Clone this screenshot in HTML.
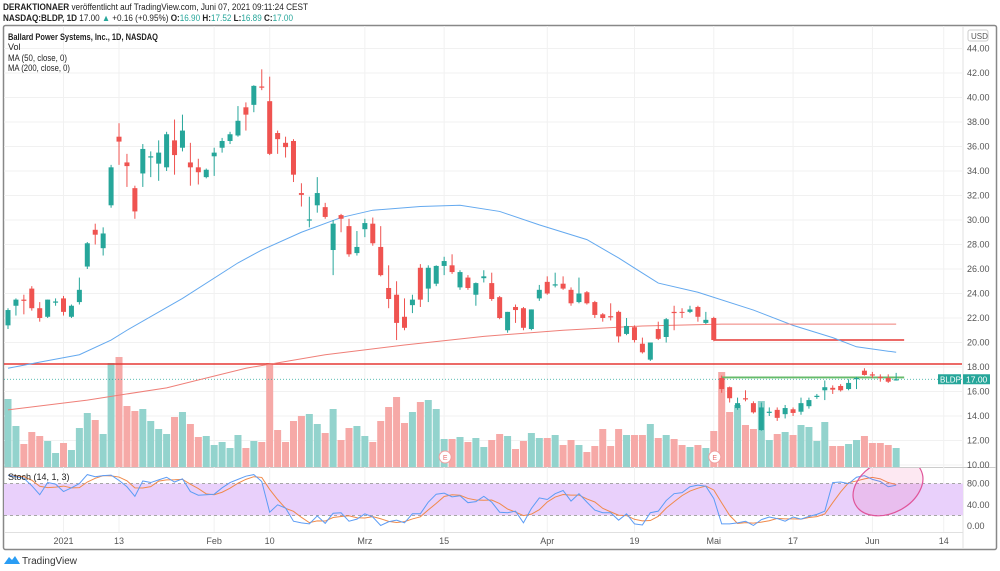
<!DOCTYPE html>
<html><head><meta charset="utf-8"><style>
html,body{margin:0;padding:0;background:#fff;width:1000px;height:571px;overflow:hidden}
svg{display:block;font-family:"Liberation Sans",sans-serif}
</style></head><body>
<svg id="chart" width="1000" height="571" viewBox="0 0 1000 571" xmlns="http://www.w3.org/2000/svg">
<defs>
<clipPath id="mainClip"><rect x="4" y="26" width="958" height="441"/></clipPath>
<clipPath id="stochClip"><rect x="4" y="468" width="958" height="64"/></clipPath>
</defs>
<g id="header" font-size="9">
<text x="3" y="10" fill="#222" textLength="305" lengthAdjust="spacingAndGlyphs"><tspan font-weight="bold">DERAKTIONAER</tspan> veröffentlicht auf TradingView.com, Juni 07, 2021 09:11:24 CEST</text>
<text x="3" y="21" fill="#222" textLength="290" lengthAdjust="spacingAndGlyphs"><tspan font-weight="bold">NASDAQ:BLDP, 1D</tspan> 17.00 <tspan fill="#26a69a">▲</tspan> +0.16 (+0.95%) <tspan font-weight="bold">O:</tspan><tspan fill="#26a69a">16.90</tspan> <tspan font-weight="bold">H:</tspan><tspan fill="#26a69a">17.52</tspan> <tspan font-weight="bold">L:</tspan><tspan fill="#26a69a">16.89</tspan> <tspan font-weight="bold">C:</tspan><tspan fill="#26a69a">17.00</tspan></text>
</g>
<rect x="3.5" y="25.5" width="993" height="524" fill="none" stroke="#888" stroke-width="1.5" rx="2"/>
<line x1="963" y1="26" x2="963" y2="549" stroke="#e0e0e0"/>
<line x1="4" y1="467.5" x2="996" y2="467.5" stroke="#ccc"/>
<line x1="4" y1="532.5" x2="963" y2="532.5" stroke="#e0e0e0"/>
<g id="grid"></g>
<g id="stochBand"></g>
<g id="volumes" clip-path="url(#mainClip)"></g>
<g id="drawings" clip-path="url(#mainClip)"></g>
<g id="mas" clip-path="url(#mainClip)"></g>
<g id="candles" clip-path="url(#mainClip)"></g>
<g id="stoch" clip-path="url(#stochClip)"></g>
<g id="yaxis" font-size="9" fill="#555"></g>
<g id="xaxis" font-size="9" fill="#555"></g>
<g font-size="9" fill="#222">
<text x="8" y="40" font-weight="bold" textLength="150" lengthAdjust="spacingAndGlyphs">Ballard Power Systems, Inc., 1D, NASDAQ</text>
<text x="8" y="50">Vol</text>
<text x="8" y="61" textLength="59" lengthAdjust="spacingAndGlyphs">MA (50, close, 0)</text>
<text x="8" y="71" textLength="62" lengthAdjust="spacingAndGlyphs">MA (200, close, 0)</text>
</g>
<text x="8" y="480" font-size="9" fill="#222">Stoch (14, 1, 3)</text>
<g>
<path d="M4 564 L9 557 L12 560 L15 556 L20 564 Z" fill="#2a9df4"/>
<text x="22" y="564" font-size="10" fill="#333">TradingView</text>
</g>
</svg>
<script>
const opens=[21.4,23.0,23.5,24.4,22.8,22.1,23.25,23.6,22.1,23.3,26.2,29.2,27.7,31.2,36.8,34.7,32.6,33.8,35.1,34.6,34.3,36.5,35.9,34.7,34.3,33.5,35.2,35.9,36.45,36.9,
39.2,39.4,40.9,39.7,37.1,36.3,36.45,32.2,29.95,31.2,31.05,27.55,30.4,29.5,27.3,29.25,29.7,27.8,24.45,23.9,22.1,23.05,26.1,24.4,24.8,26.25,26.3,24.5,25.3,
23.9,25.25,24.85,23.7,21.0,22.9,22.8,21.1,23.6,24.95,24.65,24.8,24.3,23.3,24.1,23.3,22.3,22.15,22.5,20.7,21.25,19.9,18.6,21.1,20.45,22.5,22.5,22.5,22.9,
21.6,22.0,17.1,16.35,14.65,15.45,15.05,12.85,14.25,14.5,14.15,14.55,14.35,14.8,15.55,16.1,16.3,16.45,16.2,17.0,17.7,17.4,17.2,17.1,16.9];
const highs=[22.8,23.6,23.9,24.6,23.3,23.5,23.6,23.8,23.1,25.3,28.2,29.7,29.4,34.5,37.9,35.4,32.8,36.2,35.6,36.5,37.2,38.2,38.6,36.3,35.0,34.2,35.9,36.7,37.2,39.3,
39.6,41.0,42.3,41.7,37.3,36.8,36.6,33.0,31.9,33.5,31.4,30.0,30.5,30.1,29.1,30.1,30.2,29.5,26.3,25.0,23.6,23.9,26.4,26.3,26.3,27.0,27.2,25.9,25.5,
24.9,25.9,25.7,23.8,22.5,23.1,22.9,22.7,24.7,25.4,25.7,25.4,24.5,25.3,24.2,23.4,22.4,23.2,22.6,22.0,21.4,20.4,20.0,21.7,22.0,23.0,22.8,23.0,23.0,
22.5,22.1,17.3,16.4,15.5,16.1,15.2,15.1,14.7,14.7,14.9,14.7,15.5,15.5,15.8,16.9,16.5,16.6,17.0,17.2,17.9,17.6,17.4,17.4,17.52];
const lows=[21.1,22.2,22.3,22.6,21.7,22.0,23.0,22.2,22.0,23.1,26.0,28.0,27.1,31.0,34.5,32.7,30.1,32.7,33.5,33.2,34.0,33.7,35.6,32.8,32.9,33.4,33.6,35.5,36.2,36.8,
37.3,38.8,40.6,35.3,35.4,35.1,33.1,31.1,29.4,30.6,30.1,25.5,29.0,27.0,27.1,28.6,27.9,25.4,22.8,20.2,21.0,22.4,22.9,23.3,24.6,25.5,25.6,24.3,24.3,
23.0,24.9,23.4,21.9,20.8,21.6,21.0,21.0,23.4,23.9,24.5,24.3,23.0,23.2,23.1,22.0,21.7,21.8,20.0,20.6,20.0,19.1,18.5,20.2,20.0,21.0,22.0,22.4,21.7,
21.5,20.1,15.9,15.1,14.5,15.2,14.2,12.8,14.0,13.6,13.8,14.0,14.1,14.6,15.4,15.3,15.8,16.0,16.1,16.2,17.3,17.1,16.8,16.7,16.89];
const closes=[22.65,23.5,23.4,22.8,22.0,23.5,23.35,22.5,23.0,24.3,28.1,28.8,28.9,34.3,36.4,34.4,30.7,35.8,35.2,35.5,37.0,35.3,37.3,34.3,33.9,34.1,35.5,36.45,37.0,38.1,
38.6,40.95,40.8,35.4,36.6,35.95,33.7,32.05,30.05,32.2,30.25,29.7,30.1,27.2,27.8,29.75,28.1,25.5,23.55,21.6,21.2,23.5,23.5,26.1,26.25,26.65,25.75,25.75,24.45,
24.85,25.4,23.55,22.0,22.5,22.65,21.2,22.7,24.3,24.0,24.75,24.4,23.2,24.0,23.2,22.25,22.0,22.05,20.5,21.35,20.2,19.2,20.0,20.3,21.9,22.4,22.45,22.7,22.1,
21.85,20.2,16.2,15.45,15.05,15.35,14.3,14.7,14.35,13.85,14.65,14.25,15.05,15.3,15.65,16.35,16.15,16.1,16.7,17.1,17.35,17.3,17.1,16.8,17.0];
const volumes=[13.6,8.2,4.6,7.0,6.2,5.2,2.8,4.8,3.4,7.8,10.8,9.4,6.6,20.8,22.0,12.2,11.2,11.6,9.2,7.6,6.6,10.0,11.0,8.6,6.0,6.2,4.4,5.0,3.8,6.4,
3.8,5.2,5.0,20.8,7.4,5.0,9.2,10.2,10.6,8.6,6.8,11.6,5.4,7.8,8.2,6.2,5.0,9.2,12.0,14.0,8.8,11.0,13.0,13.4,11.6,5.6,5.6,6.0,5.0,
5.8,4.0,5.4,6.6,6.2,3.6,5.2,6.8,5.8,5.8,6.4,4.4,5.4,4.4,3.0,4.2,7.6,4.2,7.6,6.4,6.4,6.4,8.6,5.8,6.4,5.6,4.4,4.0,4.4,
3.8,7.2,19.0,11.0,12.4,8.4,7.6,13.2,5.4,6.6,7.0,6.4,8.4,8.0,5.2,9.0,4.2,4.2,4.6,5.4,6.2,4.8,4.8,4.4,3.8];
const stochK=[96,93,90,76,59,82,79,65,72,80,97,93,95,96,86,74,56,85,82,87,92,83,89,65,58,59,60,72,82,88,94,97,84,26,40,34,9,6,4,19,5,24,25,9,13,23,17,1,8,11,6,23,23,45,60,62,55,57,44,46,56,45,26,25,28,6,33,53,50,61,67,47,61,45,30,25,25,11,23,4,2,25,28,48,61,63,74,77,75,52,4,4,6,9,1,12,17,14,9,17,13,18,22,28,82,83,80,92,95,88,84,74,77];
const ma50Idx=[0,4,9,13,15,22,29,32,37,42,46,52,57,62,67,73,77,82,87,94,99,104,107,112];
const ma50Val=[17.9,18.4,19.0,20.2,21.0,23.6,26.5,27.55,29.0,30.2,30.8,31.1,31.2,30.7,29.6,28.4,26.9,24.85,24.1,22.65,21.4,20.4,19.65,19.2];
const ma200Idx=[0,10,20,30,40,50,60,70,80,90,100,112];
const ma200Val=[14.5,15.3,16.3,17.9,19.0,19.8,20.5,21.0,21.35,21.5,21.5,21.5];
const priceTicks=[44,42,40,38,36,34,32,30,28,26,24,22,20,18,16,14,12,10];
const stochTicks=[80,40,0];
const dateLabels=["2021","13","Feb","10","Mrz","15","Apr","19","Mai","17","Jun","14"];
const dateIdx=[7,14,26,33,45,55,68,79,89,99,109,118];
const lastPrice=17.0;

const NS="http://www.w3.org/2000/svg";
const xS=i=>8+i*7.93;
const yP=p=>465-(p-10)*12.25;
const yV=v=>467-v*5;
const yS=v=>526-v*0.53;
function mk(tag,attrs,parent){const e=document.createElementNS(NS,tag);for(const k in attrs)e.setAttribute(k,attrs[k]);parent.appendChild(e);return e;}
const G=id=>document.getElementById(id);

const grid=G('grid');
priceTicks.forEach(p=>{const l=mk('line',{x1:4,x2:963,y1:yP(p),y2:yP(p),stroke:'#f1f1f1'},grid);

});
dateIdx.forEach(i=>{const l=mk('line',{x1:xS(i),x2:xS(i),y1:26,y2:532,stroke:'#f1f1f1'},grid);

});

const ya=G('yaxis');
const usd=mk('rect',{x:968,y:30,width:20,height:11,fill:'#fff',stroke:'#ccc',rx:2},ya);


const ut=mk('text',{x:971,y:39,'font-size':8},ya);ut.textContent='USD';


priceTicks.forEach(p=>{const t=mk('text',{x:967,y:yP(p)+3},ya);t.textContent=p.toFixed(2);

});
stochTicks.forEach(v=>{const t=mk('text',{x:967,y:yS(v)+3},ya);t.textContent=v.toFixed(2);

});

const xa=G('xaxis');
dateLabels.forEach((s,k)=>{const t=mk('text',{x:xS(dateIdx[k]),y:544,'text-anchor':'middle'},xa);t.textContent=s;

});

const vg=G('volumes');
volumes.forEach((v,i)=>{const up=closes[i]>=opens[i];
const r=mk('rect',{x:xS(i)-3.5,y:yV(v),width:7,height:467-yV(v),fill:up?'#93d3cd':'#f6a9a7'},vg);

});
[55,89].forEach(i=>{const c=mk('circle',{cx:xS(i)+1,cy:457,r:6,fill:'#fff',stroke:'#f0a0a0'},vg);


const t=mk('text',{x:xS(i)+1,y:460,'font-size':7,'text-anchor':'middle',fill:'#e57373'},vg);t.textContent='E';

});

const dg=G('drawings');
const pl=mk('line',{x1:4,x2:963,y1:yP(lastPrice),y2:yP(lastPrice),stroke:'#26a69a','stroke-dasharray':'1,2','stroke-width':0.8},dg);


const dl=[[4,963,18.25,'#e53935',1.5,'support-line-18-25'],[xS(89),xS(112)+8,20.2,'#e53935',1.5,'resistance-line-20-20'],[xS(90),xS(112)+8,17.15,'#66bb6a',1.8,'green-trend-line']];
dl.forEach(d=>{const l=mk('line',{x1:d[0],x2:d[1],y1:yP(d[2]),y2:yP(d[2]),stroke:d[3],'stroke-width':d[4]},dg);

});

const mg=G('mas');
function poly(idx,vals,color,name){const pts=idx.map((i,k)=>xS(i)+','+yP(vals[k])).join(' ');
const p=mk('polyline',{points:pts,fill:'none',stroke:color,'stroke-width':1},mg);

}
poly(ma50Idx,ma50Val,'#64a9ef','ma50-line');
poly(ma200Idx,ma200Val,'#ef7f78','ma200-line');

const cg=G('candles');
opens.forEach((o,i)=>{const c=closes[i],up=c>=o,col=up?'#26a69a':'#ef5350',x=xS(i);
const w=mk('line',{x1:x,x2:x,y1:yP(highs[i]),y2:yP(lows[i]),stroke:col,'stroke-width':1},cg);


const top=yP(Math.max(o,c)),bot=yP(Math.min(o,c));
const b=mk('rect',{x:x-2.5,y:top,width:5,height:Math.max(1,bot-top),fill:col},cg);

});

const lb=mk('rect',{x:938,y:yP(lastPrice)-5,width:23,height:10,fill:'#26a69a'},ya);


const lt=mk('text',{x:940,y:yP(lastPrice)+3,'font-size':8,fill:'#fff'},ya);lt.textContent='BLDP';


const pb=mk('rect',{x:963,y:yP(lastPrice)-5,width:27,height:10,fill:'#26a69a'},ya);


const pt=mk('text',{x:966,y:yP(lastPrice)+3,'font-size':8.5,fill:'#fff'},ya);pt.textContent=lastPrice.toFixed(2);



const sb=G('stochBand');
const band=mk('rect',{x:4,y:yS(80),width:959,height:yS(20)-yS(80),fill:'#e9d0fb'},sb);


[80,20].forEach(v=>{const l=mk('line',{x1:4,x2:963,y1:yS(v),y2:yS(v),stroke:'#888','stroke-dasharray':'3,3','stroke-width':0.8},sb);

});

const sg=G('stoch');
const stochD=stochK.map((v,i)=>{const a=stochK.slice(Math.max(0,i-2),i+1);return a.reduce((s,x)=>s+x,0)/a.length;});
function spoly(vals,color,name){const p=mk('polyline',{points:vals.map((v,i)=>xS(i)+','+yS(v)).join(' '),fill:'none',stroke:color,'stroke-width':1},sg);

}
spoly(stochD,'#f08a4b','stoch-d-line');
spoly(stochK,'#5c9cf5','stoch-k-line');
const el=mk('ellipse',{cx:888,cy:487,rx:37,ry:26,transform:'rotate(-28 888 487)',fill:'rgba(236,64,150,0.12)',stroke:'#e0559a','stroke-width':1.2},sg);


</script>
</body></html>
